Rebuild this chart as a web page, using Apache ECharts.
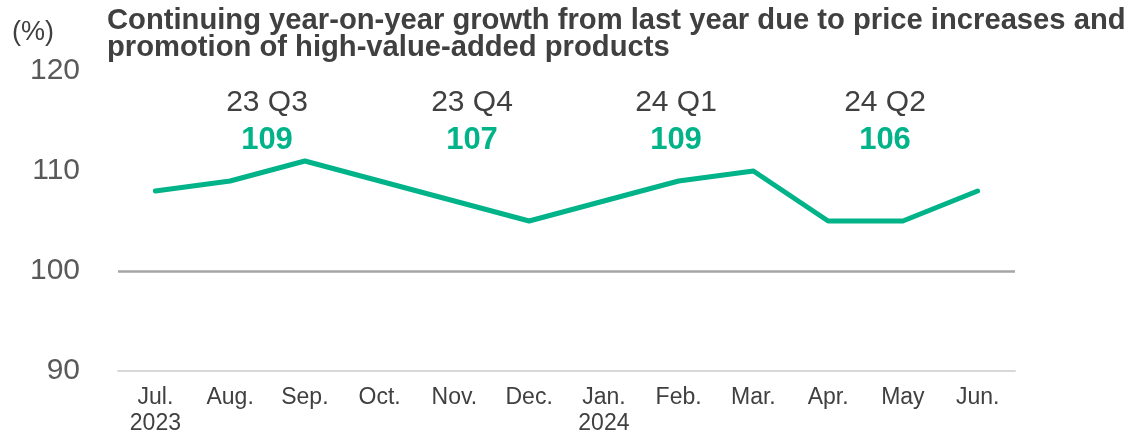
<!DOCTYPE html>
<html>
<head>
<meta charset="utf-8">
<script src="https://cdn.jsdelivr.net/npm/echarts@6/dist/echarts.min.js"></script>
<style>
html,body{margin:0;padding:0;background:#fff;}
#chart{width:1132px;height:437px;}
</style>
</head>
<body>
<div id="chart"></div>
<script>
var months = ['Jul.\n2023','Aug.','Sep.','Oct.','Nov.','Dec.','Jan.\n2024','Feb.','Mar.','Apr.','May','Jun.'];
var growth = [108,109,111,109,107,105,107,109,110,105,105,108];
var quarterNames = ['23 Q3','23 Q4','24 Q1','24 Q2'];
var quarterValues = [109,107,109,106];
var titleText = 'Continuing year-on-year growth from last year due to price increases and\npromotion of high-value-added products';
var unitText = '(%)';

var FONT = '"Liberation Sans", Arial, Helvetica, sans-serif';
var GREEN = '#00b388';
var quarterCenters = [267, 472, 676, 885];

var graphics = [{
  type:'text', x: 12, y: 33,
  style:{text: unitText, fontSize:27, fontFamily:FONT, fill:'#404040', align:'left', verticalAlign:'middle'}
}];
quarterNames.forEach(function(q, i){
  graphics.push({type:'text', x: quarterCenters[i], y: 103,
    style:{text:q, fontSize:30, fontFamily:FONT, fill:'#404040', align:'center', verticalAlign:'middle'}});
  graphics.push({type:'text', x: quarterCenters[i], y: 140,
    style:{text:String(quarterValues[i]), fontSize:31, fontWeight:'bold', fontFamily:FONT, fill:GREEN, align:'center', verticalAlign:'middle'}});
});

var chart = echarts.init(document.getElementById('chart'), null, {renderer:'canvas'});
chart.setOption({
  animation:false,
  backgroundColor:'#ffffff',
  title:{
    text: titleText, left: 107, top: 7, padding: 0,
    textStyle:{fontFamily:FONT, fontSize:29.2, fontWeight:'bold', color:'#404040', lineHeight:27}
  },
  grid:{left:118, right:117, top:71, bottom:65, containLabel:false},
  xAxis:{
    type:'category', data: months, boundaryGap:true,
    axisLine:{show:true, lineStyle:{color:'#d9d9d9', width:2}},
    axisTick:{show:false},
    axisLabel:{fontFamily:FONT, fontSize:23, color:'#404040', lineHeight:26, margin:14, interval:0}
  },
  yAxis:{
    type:'value', min:90, max:120, interval:10,
    axisLine:{show:false}, axisTick:{show:false},
    splitLine:{show:false},
    axisLabel:{fontFamily:FONT, fontSize:30, color:'#595959', margin:38}
  },
  graphic: graphics,
  series:[{
    type:'line', data: growth, symbol:'none',
    lineStyle:{color:GREEN, width:5, cap:'round', join:'round'},
    markLine:{
      silent:true, symbol:['none','none'], label:{show:false},
      lineStyle:{color:'#a6a6a6', width:2.5, type:'solid'},
      data:[{yAxis:100}]
    },
    z:3
  }]
});
</script>
</body>
</html>
